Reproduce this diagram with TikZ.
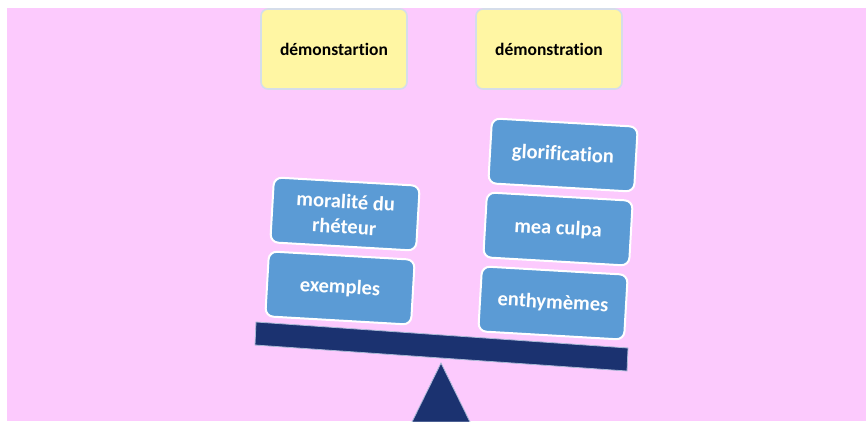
\documentclass[tikz,border=0pt]{standalone}
\usepackage{fontspec}
\setmainfont{Carlito}[Ligatures=NoCommon]
\usetikzlibrary{positioning}
\definecolor{cpink}{HTML}{FCCAFD}
\definecolor{cyellow}{HTML}{FFF6A3}
\definecolor{cyedge}{HTML}{D5DDEA}
\definecolor{cblue}{HTML}{5B9BD5}
\definecolor{cnavy}{HTML}{1B3270}
\definecolor{cglow}{HTML}{A9B9D6}

\tikzset{
  titlebox/.style={rectangle, rounded corners=7pt, fill=cyellow, draw=cyedge, line width=1.6pt,
    minimum width=146pt, minimum height=80pt, font=\fontsize{17.5}{20}\selectfont\bfseries},
  weightbox/.style={rectangle, rounded corners=8pt, fill=cblue, draw=white, line width=2pt,
    minimum width=146pt, minimum height=65pt, text=white, align=center,
    font=\fontsize{20.5}{25}\selectfont\bfseries, rotate=-3.3},
}

\begin{document}
\begin{tikzpicture}[x=1pt, y=-1pt]
    \useasboundingbox (0,0) rectangle (866,421);
    % page background
    \fill[cpink] (7,8) rectangle (866,421);
    % the two titles
    \node[titlebox] (tleft) at (334,49) {démonstartion};
    \node[titlebox] (tright) at (549,49) {démonstration};
    % fulcrum and tilted beam
    \filldraw[cnavy, draw=cglow, line width=0.8pt] (441,363) -- (470,422) -- (412,422) -- cycle;
    \filldraw[cnavy, draw=cglow, line width=0.8pt] (256,322) -- (628,348) -- (627,371) -- (255,345) -- cycle;
    % weights on both pans
    \foreach \nm/\x/\y/\txt in {exemples/340/288/exemples, moralite/345/214/{moralité du\\rhéteur},
        enthy/553/303/enthymèmes, culpa/558/229/mea culpa, glorif/563/155/glorification}{
      \node[weightbox] (\nm) at (\x,\y) {\txt};
    }
  \end{tikzpicture}
\end{document}
